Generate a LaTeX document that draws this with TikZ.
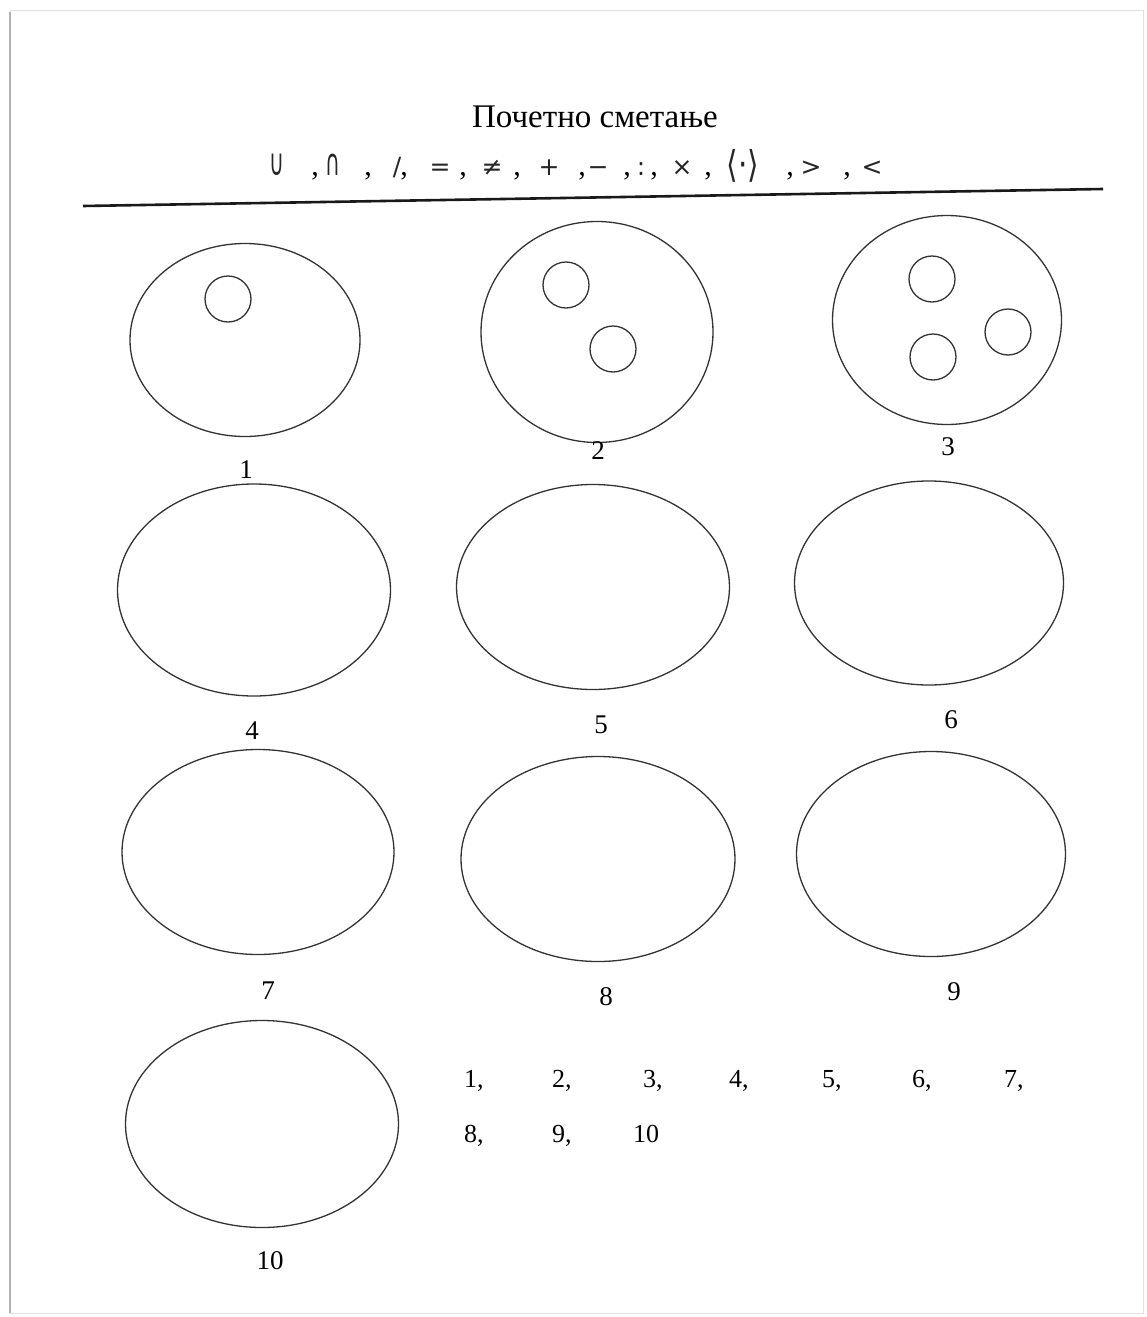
\documentclass[tikz,border=0pt]{standalone}
\usepackage{fontspec}
\setmainfont{Liberation Serif}
\newfontfamily\symfont{DejaVu Sans}
\usetikzlibrary{shapes.geometric}
\tikzset{
  oval/.style={ellipse, draw=black!80, line width=1.3pt, inner sep=0pt, outer sep=0pt},
  dot/.style={circle, draw=black!80, line width=1.3pt, inner sep=0pt, outer sep=0pt, minimum size=46pt},
  lbl/.style={font=\fontsize{27}{29}\selectfont, inner sep=0pt},
  lst/.style={font=\fontsize{26}{28}\selectfont, inner sep=0pt, anchor=base west},
  sym/.style={font=\symfont\fontsize{25}{27}\selectfont, text=black!85, inner sep=0pt, anchor=base},
  bigsym/.style={font=\symfont\fontsize{37}{39}\selectfont, text=black!85, inner sep=0pt, anchor=base},
  comma/.style={font=\fontsize{30}{32}\selectfont, inner sep=0pt, anchor=base},
}
\begin{document}
\begin{tikzpicture}[x=1pt,y=-1pt]
\useasboundingbox (0,0) rectangle (1147,1317);
% page
\fill[white] (0,0) rectangle (1147,1317);
\draw[black!12, line width=1pt] (10,10) rectangle (1143,1313);
\draw[black!30, line width=2.5pt] (10,12) -- (10,1313);
% title
\node[font=\fontsize{33}{35}\selectfont, inner sep=0pt, anchor=base] (title) at (595,127) {Почетно сметање};
% symbol row
\node[bigsym] (scup) at (277,175) {\scalebox{0.55}[1]{∪}};
\node[bigsym] (scap) at (333,175) {\scalebox{0.55}[1]{∩}};
\node[bigsym] (sang) at (743,177) {\scalebox{0.8}[1]{⟨·⟩}};
\foreach \x/\s [count=\i] in {
  397/{/}, 440/=, 492/≠, 549/+, 598/−, 641/:, 682/×, 811/>, 872/<}
  \node[sym] (s\i) at (\x,175) {\s};
\foreach \x [count=\i] in {315, 368, 404, 463, 517, 582, 627, 654, 708, 790, 847}
  \node[comma] (k\i) at (\x,175) {,};
\coordinate (la) at (83,206);
\coordinate (lb) at (1103,189);
\draw[line width=2.6pt, black!90] (la) -- (lb);
% row 1
\node[oval, minimum width=230pt, minimum height=193pt] (e1) at (245,340) {};
\node[dot] (c11) at (228,299) {};
\node[lbl] (n1) at (246,470) {1};
\node[oval, minimum width=232pt, minimum height=221pt] (e2) at (597,332) {};
\node[dot] (c21) at (566,285) {};
\node[dot] (c22) at (613,349) {};
\node[lbl] (n2) at (598,451) {2};
\node[oval, minimum width=229pt, minimum height=209pt] (e3) at (947,320) {};
\node[dot] (c31) at (932,279) {};
\node[dot] (c32) at (933,357) {};
\node[dot] (c33) at (1008,332) {};
\node[lbl] (n3) at (948,447) {3};
% row 2
\node[oval, minimum width=273pt, minimum height=212pt] (e4) at (254,590) {};
\node[lbl] (n4) at (252,731) {4};
\node[oval, minimum width=273pt, minimum height=205pt] (e5) at (593,587) {};
\node[lbl] (n5) at (601,725) {5};
\node[oval, minimum width=269pt, minimum height=204pt] (e6) at (929,583) {};
\node[lbl] (n6) at (951,720) {6};
% row 3
\node[oval, minimum width=272pt, minimum height=205pt] (e7) at (258,852) {};
\node[lbl] (n7) at (268,991) {7};
\node[oval, minimum width=274pt, minimum height=205pt] (e8) at (598,859) {};
\node[lbl] (n8) at (606,997) {8};
\node[oval, minimum width=269pt, minimum height=205pt] (e9) at (931,854) {};
\node[lbl] (n9) at (954,992) {9};
% row 4
\node[oval, minimum width=273pt, minimum height=207pt] (e10) at (262,1124) {};
\node[lbl] (n10) at (270,1261) {10};
% list
\node[lst] (l1) at (464,1087) {1,};
\node[lst] (l2) at (552,1087) {2,};
\node[lst] (l3) at (643,1087) {3,};
\node[lst] (l4) at (729,1087) {4,};
\node[lst] (l5) at (822,1087) {5,};
\node[lst] (l6) at (912,1087) {6,};
\node[lst] (l7) at (1004,1087) {7,};
\node[lst] (l8) at (464,1142) {8,};
\node[lst] (l9) at (552,1142) {9,};
\node[lst] (l10) at (633,1142) {10};
\end{tikzpicture}
\end{document}
